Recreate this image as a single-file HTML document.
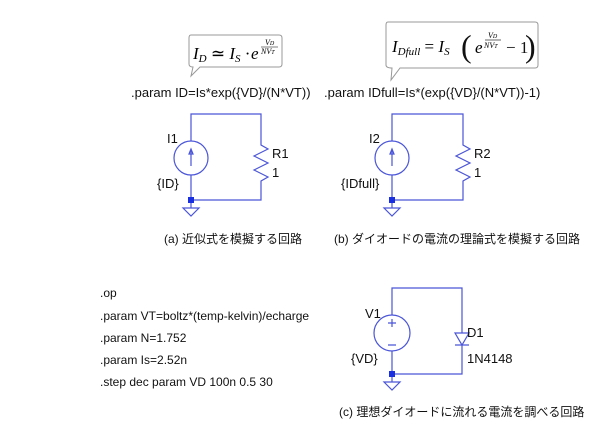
<!DOCTYPE html>
<html><head><meta charset="utf-8"><style>
html,body{margin:0;padding:0;background:#fff;}
svg{display:block;}
text{font-family:"Liberation Sans","Noto Sans CJK JP",sans-serif;font-size:12px;fill:#111;}
.m{font-family:"Liberation Serif",serif;font-style:italic;fill:#000;}
.l{font-size:13px;}
</style></head><body>
<svg width="600" height="439" viewBox="0 0 600 439" xmlns="http://www.w3.org/2000/svg">
<!-- bubble 1 -->
<path d="M191 35 H279 Q282 35 282 38 V64 Q282 67 279 67 H200 L191 76 L193 67 Q189 67 189 64 V38 Q189 35 191 35 Z" fill="#fff" stroke="#999" stroke-width="1"/>
<text class="m" x="193" y="59" style="font-size:17px">I<tspan font-size="11" dy="3">D</tspan><tspan dy="-3" font-style="normal"> ≃ </tspan>I<tspan font-size="11" dy="3">S</tspan><tspan dy="-3" font-style="normal"> · </tspan></text>
<text class="m" x="251" y="59" style="font-size:17px">e</text>
<text class="m" x="265" y="45" style="font-size:8px">V<tspan font-size="6">D</tspan></text>
<line x1="261" y1="47" x2="278" y2="47" stroke="#000" stroke-width="0.6"/>
<text class="m" x="261" y="54" style="font-size:8px">NV<tspan font-size="6">T</tspan></text>
<!-- bubble 2 -->
<path d="M388 22 H535 Q538 22 538 25 V65 Q538 68 535 68 H400 L391 80 L392 68 Q386 68 386 65 V25 Q386 22 388 22 Z" fill="#fff" stroke="#999" stroke-width="1"/>
<text class="m" x="392" y="52" style="font-size:17px">I<tspan font-size="11" dy="3">Dfull</tspan><tspan dy="-3" font-style="normal"> = </tspan>I<tspan font-size="11" dy="3">S</tspan></text>
<text x="461" y="57" style="font-size:32px;font-family:'Liberation Serif',serif">(</text>
<text class="m" x="475" y="53" style="font-size:17px">e</text>
<text class="m" x="488" y="38" style="font-size:8px">V<tspan font-size="6">D</tspan></text>
<line x1="485" y1="40" x2="501" y2="40" stroke="#000" stroke-width="0.6"/>
<text class="m" x="484" y="48" style="font-size:8px">NV<tspan font-size="6">T</tspan></text>
<text x="506" y="53" style="font-size:17px;font-family:'Liberation Serif',serif">− 1</text>
<text x="525" y="57" style="font-size:32px;font-family:'Liberation Serif',serif">)</text>
<text class="l" x="131" y="97">.param ID=Is*exp({VD}/(N*VT))</text>
<text class="l" x="324" y="97">.param IDfull=Is*(exp({VD}/(N*VT))-1)</text>

<g stroke="#4a55d8" stroke-width="1.2" fill="none">
<path d="M191 141 V114 H261 V145 L268 149 L254 156 L268 163 L254 170 L268 177 L261 181 V200 H191 V175"/>
<circle cx="191" cy="158" r="17"/>
<path d="M191 166 V150 M189 154 L191 149 L193 154 Z"/>
<path d="M191 200 V208 M183 208 H199 L191 216 Z"/>
<path d="M392 141 V114 H463 V145 L470 149 L456 156 L470 163 L456 170 L470 177 L463 181 V200 H392 V175"/>
<circle cx="392" cy="158" r="17"/>
<path d="M392 166 V150 M390 154 L392 149 L394 154 Z"/>
<path d="M392 200 V208 M384 208 H400 L392 216 Z"/>
<path d="M392 315 V288 H462 V333 M462 345 V374 H392 V351"/>
<circle cx="392" cy="333" r="18"/>
<path d="M388 323 H396 M392 319 V327 M388 345 H396"/>
<path d="M455 333 H469 L462 345 Z M455 345 H469"/>
<path d="M392 374 V382 M384 382 H400 L392 390 Z"/>
</g>
<rect x="188" y="197" width="6" height="6" fill="#1a2fe0"/>
<rect x="389" y="197" width="6" height="6" fill="#1a2fe0"/>
<rect x="389" y="371" width="6" height="6" fill="#1a2fe0"/>

<text class="l" x="167" y="143">I1</text>
<text class="l" x="157" y="188">{ID}</text>
<text class="l" x="272" y="158">R1</text>
<text class="l" x="272" y="177">1</text>
<text class="l" x="369" y="143">I2</text>
<text class="l" x="341" y="188">{IDfull}</text>
<text class="l" x="474" y="158">R2</text>
<text class="l" x="474" y="177">1</text>
<text class="l" x="365" y="318">V1</text>
<text class="l" x="351" y="363">{VD}</text>
<text class="l" x="467" y="337">D1</text>
<text class="l" x="467" y="363">1N4148</text>

<text x="164" y="243">(a) 近似式を模擬する回路</text>
<text x="334" y="243">(b) ダイオードの電流の理論式を模擬する回路</text>
<text x="339" y="416">(c) 理想ダイオードに流れる電流を調べる回路</text>

<text x="100" y="297">.op</text>
<text x="100" y="320">.param VT=boltz*(temp-kelvin)/echarge</text>
<text x="100" y="342">.param N=1.752</text>
<text x="100" y="364">.param Is=2.52n</text>
<text x="100" y="386">.step dec param VD 100n 0.5 30</text>
</svg>
</body></html>
